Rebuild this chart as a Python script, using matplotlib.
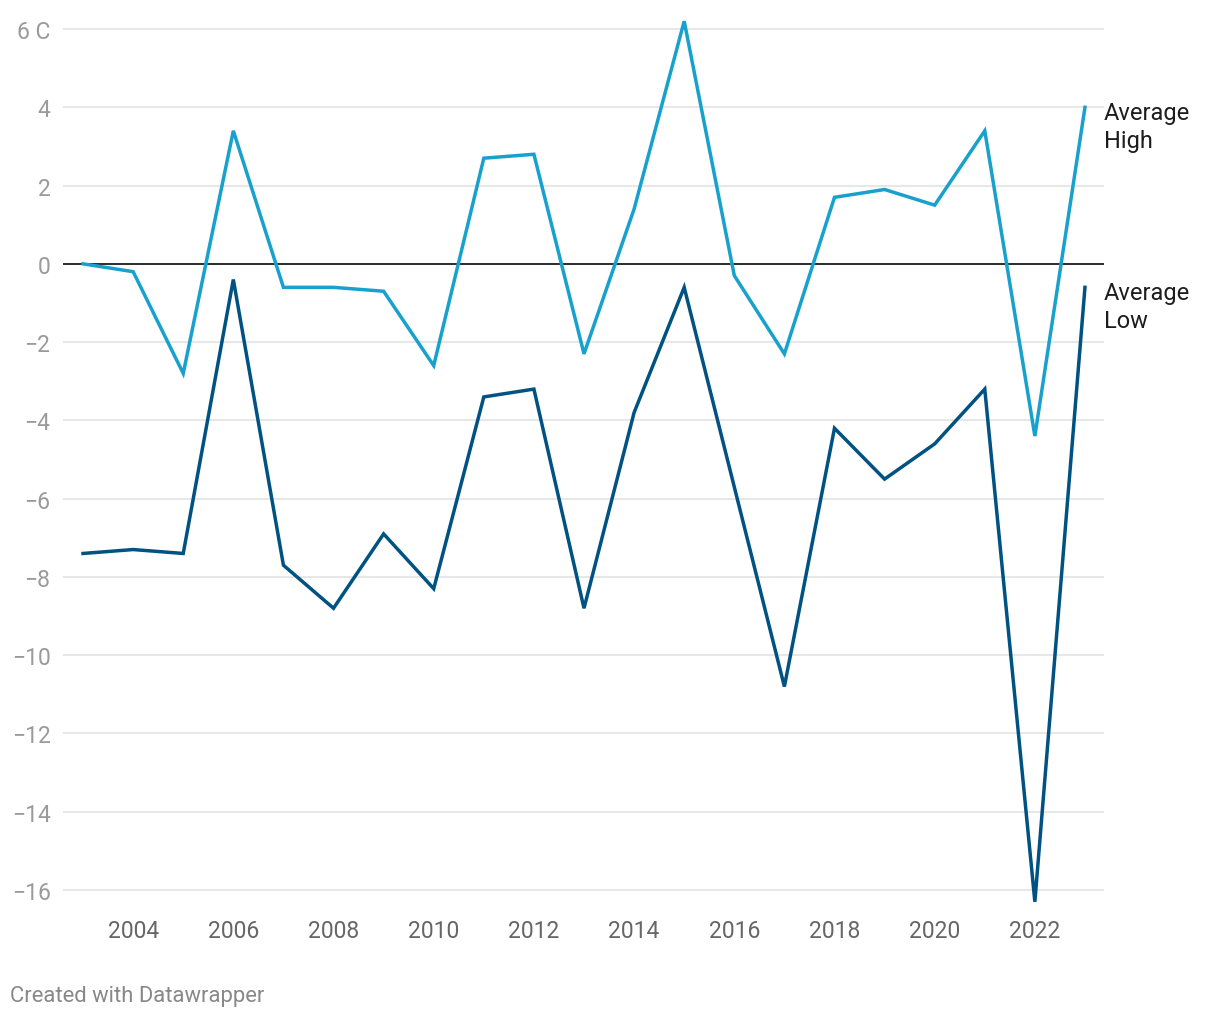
import matplotlib.pyplot as plt
from matplotlib.ticker import FuncFormatter

plt.rcParams['font.family'] = ['Roboto', 'DejaVu Sans']

# data
years = list(range(2003, 2024))
avg_high = [0.0, -0.2, -2.8, 3.4, -0.6, -0.6, -0.7, -2.6, 2.7, 2.8, -2.3,
            1.4, 6.2, -0.3, -2.3, 1.7, 1.9, 1.5, 3.4, -4.4, 4.0]
avg_low = [-7.4, -7.3, -7.4, -0.4, -7.7, -8.8, -6.9, -8.3, -3.4, -3.2, -8.8,
           -3.8, -0.6, -5.7, -10.8, -4.2, -5.5, -4.6, -3.2, -16.3, -0.6]
y_ticks = list(range(-16, 7, 2))
x_ticks = list(range(2004, 2023, 2))

fig = plt.figure(figsize=(12.2, 10.2), dpi=100)
ax = fig.add_axes([63 / 1220, 1 - 910.6 / 1020, (1104 - 63) / 1220, (910.6 - 18.3) / 1020])

ax.plot(years, avg_high, color='#18a1cd', lw=2.5, solid_joinstyle='miter', zorder=3)
ax.plot(years, avg_low, color='#005282', lw=2.5, solid_joinstyle='miter', zorder=3)
ax.axhline(0, color='#1d1d1d', lw=1.3, zorder=2)

ax.set_xlim(2002.6, 2023.38)
ax.set_ylim(-16.5, 6.3)
ax.set_yticks(y_ticks)
ax.set_xticks(x_ticks)
ax.yaxis.set_major_formatter(FuncFormatter(lambda v, p: '6 C' if v == 6 else f'{int(v)}'.replace('-', '\u2212')))
ax.grid(axis='y', color='#e3e3e3', lw=1.2, zorder=0)
ax.set_axisbelow(True)
for s in ax.spines.values():
    s.set_visible(False)
ax.tick_params(axis='y', length=0, pad=9, labelsize=16.5, labelcolor='#9a9a9a')
ax.tick_params(axis='x', length=0, pad=7, labelsize=16.5, labelcolor='#666666')

# line labels
for name, vals in [('Average\nHigh', avg_high), ('Average\nLow', avg_low)]:
    ax.annotate(name, xy=(years[-1], vals[-1]), xytext=(19, 6), textcoords='offset pixels',
                va='top', ha='left', fontsize=17, color='#1d1d1d', linespacing=1.25,
                annotation_clip=False)

fig.text(10 / 1220, 1 - 997 / 1020, 'Created with Datawrapper', fontsize=15.8,
         color='#888888', va='center', ha='left')

fig.savefig('out.png', dpi=100)
